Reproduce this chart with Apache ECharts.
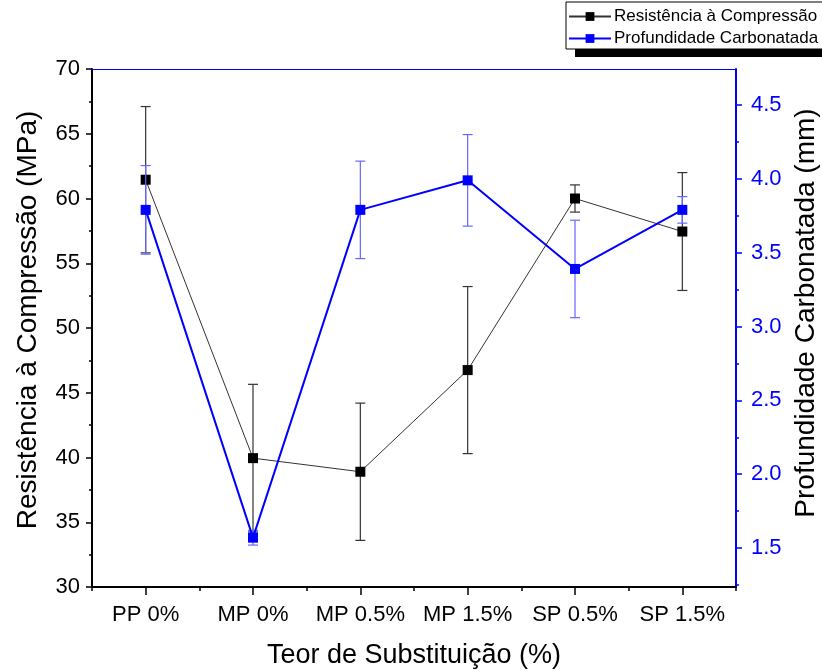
<!DOCTYPE html>
<html>
<head>
<meta charset="utf-8">
<script src="https://cdn.jsdelivr.net/npm/echarts@6/dist/echarts.min.js"></script>
<style>html,body{margin:0;padding:0;background:#fff;}#c{width:822px;height:671px;}</style>
</head>
<body>
<div id="c"></div>
<script>
const categories = ['PP 0%', 'MP 0%', 'MP 0.5%', 'MP 1.5%', 'SP 0.5%', 'SP 1.5%'];
const strength = [61.45, 39.95, 38.9, 46.75, 60.0, 57.45];
const strengthErr = [5.65, 5.7, 5.3, 6.45, 1.05, 4.55];
const depth = [3.79, 1.57, 3.79, 3.99, 3.39, 3.79];
const depthErr = [0.30, 0.05, 0.33, 0.31, 0.33, 0.09];
const leftTicks = [30, 35, 40, 45, 50, 55, 60, 65, 70];
const rightTicks = [1.5, 2.0, 2.5, 3.0, 3.5, 4.0, 4.5];
const rightMinor = [1.25, 1.75, 2.25, 2.75, 3.25, 3.75, 4.25, 4.75];
const seriesNames = ['Resistência à Compressão', 'Profundidade Carbonatada'];

const FONT = 'Liberation Sans, Arial, sans-serif';
const chart = echarts.init(document.getElementById('c'), null, {renderer: 'canvas'});

function errData(vals, errs) {
  return vals.map((v, i) => [i, v + errs[i], v - errs[i]]);
}
function errRender(color) {
  return function (params, api) {
    const x = api.value(0);
    const p1 = api.coord([x, api.value(1)]);
    const p2 = api.coord([x, api.value(2)]);
    const w = 5;
    const st = {stroke: color, lineWidth: 1.2};
    return {
      type: 'group',
      children: [
        {type: 'line', shape: {x1: p1[0], y1: p1[1], x2: p2[0], y2: p2[1]}, style: st},
        {type: 'line', shape: {x1: p1[0] - w, y1: p1[1], x2: p1[0] + w, y2: p1[1]}, style: st},
        {type: 'line', shape: {x1: p2[0] - w, y1: p2[1], x2: p2[0] + w, y2: p2[1]}, style: st}
      ]
    };
  };
}

const rMin = 1.236, rMax = 4.744;

const option = {
  backgroundColor: '#fff',
  animation: false,
  textStyle: {fontFamily: FONT},
  grid: {left: 92, right: 86, top: 69, bottom: 84, containLabel: false, outerBoundsMode: 'none'},
  legend: {
    orient: 'vertical',
    left: 566, top: 2,
    data: seriesNames,
    itemWidth: 42, itemHeight: 11, itemGap: 5,
    padding: [6, 8, 2, 2],
    borderColor: '#000', borderWidth: 1,
    backgroundColor: '#fff',
    borderRadius: 0,
    textStyle: {fontFamily: FONT, fontSize: 17, color: '#000', padding: [0, 0, 0, -2]},
    z: 10
  },
  graphic: [{
    type: 'rect', z: 1, silent: true,
    shape: {x: 575, y: 48, width: 260, height: 9},
    style: {fill: '#000'}
  }],
  xAxis: [{
    type: 'category', data: categories, position: 'bottom', boundaryGap: true,
    axisLine: {lineStyle: {color: '#000', width: 2}},
    axisTick: {show: true, alignWithLabel: true, interval: 0, length: 8, lineStyle: {color: '#000', width: 1.5}},
    axisLabel: {fontFamily: FONT, fontSize: 22, color: '#000', margin: 17, interval: 0, hideOverlap: false},
    splitLine: {show: false},
    name: 'Teor de Substituição (%)', nameLocation: 'middle', nameGap: 55,
    nameTextStyle: {fontFamily: FONT, fontSize: 27, color: '#000'}
  }, {
    type: 'category', data: categories, position: 'bottom', boundaryGap: true,
    axisLine: {show: false},
    axisTick: {show: true, alignWithLabel: false, interval: 0, length: 4, lineStyle: {color: '#000', width: 1.5}},
    axisLabel: {show: false}, splitLine: {show: false}
  }, {
    type: 'category', data: categories, position: 'top', boundaryGap: true,
    axisLine: {lineStyle: {color: '#0000ff', width: 1}},
    axisTick: {show: false}, axisLabel: {show: false}, splitLine: {show: false}
  }],
  yAxis: [{
    type: 'value', min: 30, max: 70, interval: 5, position: 'left',
    axisLine: {show: true, lineStyle: {color: '#000', width: 2}},
    axisTick: {show: true, length: 6, lineStyle: {color: '#000', width: 1.5}},
    minorTick: {show: true, splitNumber: 2, length: 3, lineStyle: {color: '#000', width: 1.5}},
    axisLabel: {fontFamily: FONT, fontSize: 22, color: '#000', margin: 12},
    splitLine: {show: false},
    name: 'Resistência à Compressão (MPa)', nameLocation: 'middle', nameGap: 50,
    nameTextStyle: {fontFamily: FONT, fontSize: 28, color: '#000', padding: [0, 0, 0, 16]}
  }, {
    type: 'value', min: rMin, max: rMax, position: 'right',
    axisLine: {show: true, lineStyle: {color: '#0000ff', width: 2}},
    axisTick: {show: true, length: 6, customValues: rightTicks, lineStyle: {color: '#0000ff', width: 1.5}},
    axisLabel: {fontFamily: FONT, fontSize: 22, color: '#0000ff', margin: 15, customValues: rightTicks,
      formatter: v => v.toFixed(1)},
    splitLine: {show: false},
    name: 'Profundidade Carbonatada (mm)', nameLocation: 'middle', nameGap: 53,
    nameTextStyle: {fontFamily: FONT, fontSize: 28, color: '#000', padding: [0, 0, 0, 30]}
  }, {
    type: 'value', min: rMin, max: rMax, position: 'right',
    axisLine: {show: false},
    axisTick: {show: true, length: 3, customValues: rightMinor, lineStyle: {color: '#0000ff', width: 1.5}},
    axisLabel: {show: false}, splitLine: {show: false}
  }],
  series: [{
    type: 'custom', xAxisIndex: 0, yAxisIndex: 0,
    renderItem: errRender('#333333'),
    encode: {x: 0, y: [1, 2]},
    data: errData(strength, strengthErr), z: 2
  }, {
    name: seriesNames[0], type: 'line', xAxisIndex: 0, yAxisIndex: 0,
    data: strength,
    symbol: 'rect', symbolSize: 10,
    itemStyle: {color: '#000'},
    lineStyle: {color: '#333', width: 1},
    z: 3
  }, {
    type: 'custom', xAxisIndex: 0, yAxisIndex: 1,
    renderItem: errRender('#6666ff'),
    encode: {x: 0, y: [1, 2]},
    data: errData(depth, depthErr), z: 4
  }, {
    name: seriesNames[1], type: 'line', xAxisIndex: 0, yAxisIndex: 1,
    data: depth,
    symbol: 'rect', symbolSize: 10,
    itemStyle: {color: '#0000ff'},
    lineStyle: {color: '#0000ff', width: 2},
    z: 5
  }]
};
chart.setOption(option);
</script>
</body>
</html>
